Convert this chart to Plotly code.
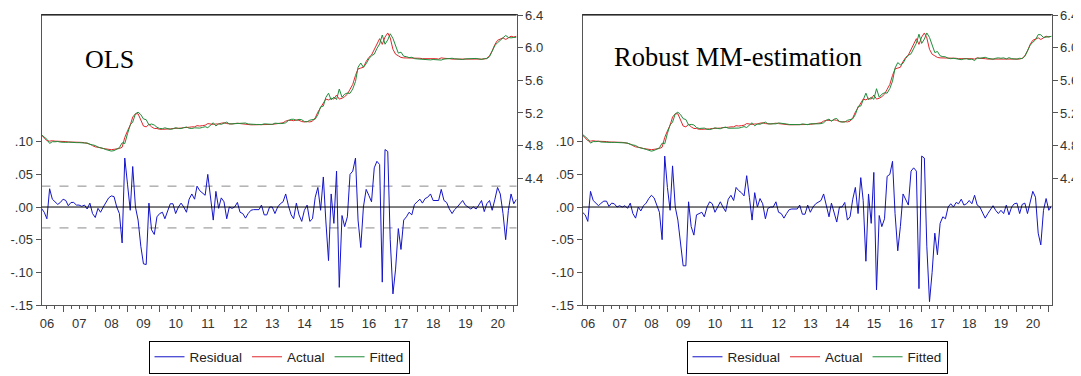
import plotly.graph_objects as go
import pandas as pd

# ---------------- data (monthly, 2006M05 - 2021M02) ----------------
start_month = "2006-05-01"
end_month = "2021-02-01"
dates = pd.date_range(start_month, end_month, freq="MS")

actual = [
    4.930, 4.900, 4.860, 4.855, 4.860, 4.855, 4.855, 4.850, 4.850, 4.850,
    4.845, 4.845, 4.845, 4.840, 4.840, 4.840, 4.835, 4.830, 4.820, 4.800,
    4.785, 4.780, 4.770, 4.765, 4.760, 4.755, 4.750, 4.755, 4.760, 4.765,
    4.780, 4.900, 4.980, 5.050, 5.150, 5.190, 5.190, 5.120, 5.040, 5.030,
    5.060, 5.030, 5.010, 5.010, 5.000, 5.000, 5.000, 5.000, 5.005, 5.010,
    5.010, 5.010, 5.015, 5.020, 5.020, 5.025, 5.030, 5.030, 5.045, 5.040,
    5.045, 5.050, 5.070, 5.065, 5.060, 5.065, 5.065, 5.075, 5.080, 5.070,
    5.065, 5.065, 5.070, 5.075, 5.070, 5.065, 5.060, 5.055, 5.055, 5.055,
    5.055, 5.055, 5.060, 5.055, 5.055, 5.060, 5.060, 5.065, 5.070, 5.075,
    5.080, 5.100, 5.110, 5.110, 5.105, 5.115, 5.110, 5.095, 5.090, 5.095,
    5.090, 5.100, 5.140, 5.210, 5.270, 5.330, 5.370, 5.360, 5.380, 5.370,
    5.420, 5.370, 5.380, 5.400, 5.430, 5.490, 5.550, 5.660, 5.740, 5.750,
    5.760, 5.830, 5.880, 5.910, 5.980, 6.060, 6.110, 6.040, 6.130, 6.180,
    6.120, 5.980, 5.920, 5.900, 5.880, 5.875, 5.875, 5.870, 5.870, 5.870,
    5.870, 5.870, 5.865, 5.865, 5.865, 5.870, 5.865, 5.865, 5.860, 5.875,
    5.870, 5.870, 5.865, 5.860, 5.860, 5.860, 5.865, 5.865, 5.865, 5.865,
    5.865, 5.865, 5.865, 5.865, 5.865, 5.860, 5.870, 5.900, 5.960, 6.040,
    6.090, 6.110, 6.120, 6.100, 6.120, 6.140, 6.130, 6.140,
]

resid_ols = [
    -0.002, -0.008, -0.018, 0.028, 0.012, 0.008, 0.004, 0.007, 0.012, 0.010,
    0.002, 0.007, 0.007, 0.003, 0.003, 0.001, 0.003, -0.003, 0.006, -0.010,
    -0.016, -0.002, -0.008, 0.000, 0.008, 0.014, 0.017, 0.016, 0.000, -0.010,
    -0.055, 0.075, 0.035, -0.005, 0.062, 0.000, -0.020, -0.060, -0.087, -0.088,
    0.006, -0.035, -0.042, -0.015, -0.010, -0.008, -0.018, -0.005, 0.005, 0.005,
    -0.010, 0.000, 0.006, 0.000, -0.008, 0.012, 0.020, 0.012, 0.032, 0.025,
    0.022, 0.018, 0.050, 0.015, -0.020, 0.024, -0.002, 0.014, 0.008, -0.018,
    0.000, -0.002, 0.000, 0.007, -0.008, -0.010, -0.017, -0.010, -0.005, -0.004,
    -0.004, -0.004, 0.003, -0.012, -0.012, 0.000, 0.000, -0.010, 0.000, 0.005,
    0.008, 0.020, 0.002, -0.012, -0.018, 0.006, -0.012, -0.022, -0.005, 0.003,
    -0.022, -0.018, 0.015, 0.030, -0.005, 0.046, -0.020, -0.082, 0.020, -0.025,
    0.055, -0.123, -0.013, -0.030, -0.015, 0.050, 0.055, 0.075, -0.020, -0.062,
    0.000, 0.027, 0.018, 0.008, 0.060, 0.070, 0.065, -0.115, 0.088, 0.085,
    -0.050, -0.133, -0.095, -0.033, -0.065, -0.020, -0.015, -0.008, -0.012, 0.004,
    0.008, 0.012, 0.006, 0.013, 0.015, 0.020, 0.010, 0.010, 0.010, 0.027,
    0.010, 0.007, -0.003, -0.010, -0.004, 0.000, 0.005, 0.010, 0.003, 0.000,
    -0.003, 0.000, -0.003, 0.003, 0.010, -0.007, 0.005, 0.010, -0.005, 0.012,
    0.030, 0.020, -0.010, -0.050, -0.005, 0.020, 0.005, 0.012,
]

fitted_ols = [
    4.932, 4.908, 4.878, 4.827, 4.848, 4.847, 4.851, 4.843, 4.838, 4.840,
    4.843, 4.838, 4.838, 4.837, 4.837, 4.839, 4.832, 4.833, 4.814, 4.810,
    4.801, 4.782, 4.778, 4.765, 4.752, 4.741, 4.733, 4.739, 4.760, 4.775,
    4.835, 4.825, 4.945, 5.055, 5.088, 5.190, 5.210, 5.180, 5.127, 5.118,
    5.054, 5.065, 5.052, 5.025, 5.010, 5.008, 5.018, 5.005, 5.000, 5.005,
    5.020, 5.010, 5.009, 5.020, 5.028, 5.013, 5.010, 5.018, 5.013, 5.015,
    5.023, 5.032, 5.020, 5.050, 5.080, 5.041, 5.067, 5.061, 5.072, 5.088,
    5.065, 5.067, 5.070, 5.068, 5.078, 5.075, 5.077, 5.065, 5.060, 5.059,
    5.059, 5.059, 5.057, 5.067, 5.067, 5.060, 5.060, 5.075, 5.070, 5.070,
    5.072, 5.080, 5.108, 5.122, 5.123, 5.109, 5.122, 5.117, 5.095, 5.092,
    5.112, 5.118, 5.125, 5.180, 5.275, 5.284, 5.390, 5.442, 5.360, 5.395,
    5.365, 5.493, 5.393, 5.430, 5.445, 5.440, 5.495, 5.585, 5.760, 5.812,
    5.760, 5.803, 5.862, 5.902, 5.920, 5.990, 6.045, 6.155, 6.042, 6.095,
    6.170, 6.113, 6.015, 5.933, 5.945, 5.895, 5.890, 5.878, 5.882, 5.866,
    5.862, 5.858, 5.859, 5.852, 5.850, 5.850, 5.855, 5.855, 5.850, 5.848,
    5.860, 5.863, 5.868, 5.870, 5.864, 5.860, 5.860, 5.855, 5.862, 5.865,
    5.868, 5.865, 5.868, 5.862, 5.855, 5.867, 5.865, 5.890, 5.965, 6.028,
    6.060, 6.090, 6.130, 6.150, 6.125, 6.120, 6.125, 6.128,
]

resid_mm = [
    -0.008, -0.012, -0.022, 0.024, 0.010, 0.006, 0.002, 0.006, 0.009, 0.009,
    0.001, 0.006, 0.005, 0.000, 0.002, 0.000, 0.002, -0.002, 0.006, -0.010,
    -0.017, 0.000, -0.006, 0.002, 0.006, 0.013, 0.018, 0.014, 0.002, -0.008,
    -0.050, 0.078, 0.030, -0.005, 0.063, 0.000, -0.020, -0.060, -0.090, -0.090,
    0.008, -0.030, -0.043, -0.012, -0.010, -0.008, -0.015, 0.000, 0.008, 0.005,
    -0.008, 0.000, 0.008, 0.000, -0.007, 0.012, 0.018, 0.010, 0.030, 0.025,
    0.022, 0.017, 0.048, 0.015, -0.020, 0.022, 0.000, 0.013, 0.005, -0.018,
    -0.002, 0.000, 0.000, 0.008, -0.008, -0.010, -0.017, -0.010, -0.004, -0.003,
    -0.003, -0.003, 0.003, -0.011, -0.011, 0.003, -0.008, 0.000, 0.005, 0.008,
    0.010, 0.020, 0.000, -0.015, 0.006, -0.010, -0.023, 0.000, 0.000, 0.007,
    -0.020, -0.015, 0.012, 0.030, -0.010, 0.045, 0.010, -0.083, 0.020, -0.025,
    0.053, -0.127, -0.013, -0.030, -0.018, 0.047, 0.050, 0.070, -0.010, -0.067,
    -0.030, 0.020, 0.012, 0.003, 0.055, 0.060, 0.055, -0.125, 0.078, 0.075,
    -0.060, -0.145, -0.100, -0.040, -0.073, -0.025, -0.015, -0.018, 0.000, 0.005,
    0.000, 0.007, 0.005, 0.012, 0.003, 0.005, 0.010, 0.005, 0.018, 0.003,
    0.000, -0.008, -0.017, -0.010, -0.005, 0.002, -0.005, -0.010, -0.005, -0.010,
    0.003, -0.012, 0.000, 0.005, 0.006, -0.010, 0.004, 0.006, -0.010, 0.010,
    0.024, 0.015, -0.040, -0.058, -0.005, 0.013, -0.005, 0.002,
]

fitted_mm = [
    4.938, 4.912, 4.882, 4.831, 4.850, 4.849, 4.853, 4.844, 4.841, 4.841,
    4.844, 4.839, 4.840, 4.840, 4.838, 4.840, 4.833, 4.832, 4.814, 4.810,
    4.802, 4.780, 4.776, 4.763, 4.754, 4.742, 4.732, 4.741, 4.758, 4.773,
    4.830, 4.822, 4.950, 5.055, 5.087, 5.190, 5.210, 5.180, 5.130, 5.120,
    5.052, 5.060, 5.053, 5.022, 5.010, 5.008, 5.015, 5.000, 4.997, 5.005,
    5.018, 5.010, 5.007, 5.020, 5.027, 5.013, 5.012, 5.020, 5.015, 5.015,
    5.023, 5.033, 5.022, 5.050, 5.080, 5.043, 5.065, 5.062, 5.075, 5.088,
    5.067, 5.065, 5.070, 5.067, 5.078, 5.075, 5.077, 5.065, 5.059, 5.058,
    5.058, 5.058, 5.057, 5.066, 5.066, 5.057, 5.068, 5.065, 5.065, 5.067,
    5.070, 5.080, 5.110, 5.125, 5.099, 5.125, 5.133, 5.095, 5.090, 5.088,
    5.110, 5.115, 5.128, 5.180, 5.280, 5.285, 5.360, 5.443, 5.360, 5.395,
    5.367, 5.497, 5.393, 5.430, 5.448, 5.443, 5.500, 5.590, 5.750, 5.817,
    5.790, 5.810, 5.868, 5.907, 5.925, 6.000, 6.055, 6.165, 6.052, 6.105,
    6.180, 6.125, 6.020, 5.940, 5.953, 5.900, 5.890, 5.888, 5.870, 5.865,
    5.870, 5.863, 5.860, 5.853, 5.862, 5.865, 5.855, 5.860, 5.842, 5.872,
    5.870, 5.878, 5.882, 5.870, 5.865, 5.858, 5.870, 5.875, 5.870, 5.875,
    5.862, 5.877, 5.865, 5.860, 5.859, 5.870, 5.866, 5.894, 5.970, 6.030,
    6.066, 6.095, 6.160, 6.158, 6.125, 6.127, 6.135, 6.138,
]

ols_band = 0.032  # +/- one standard error (dashed lines, OLS panel)

resid_ticks = [-0.15, -0.10, -0.05, 0.0, 0.05, 0.10]
resid_ticktext = ["-.15", "-.10", "-.05", ".00", ".05", ".10"]
level_ticks = [4.4, 4.8, 5.2, 5.6, 6.0, 6.4]
level_ticktext = ["4.4", "4.8", "5.2", "5.6", "6.0", "6.4"]
panel_titles = ["OLS", "Robust MM-estimation"]
series_names = ["Residual", "Actual", "Fitted"]

# ---------------- styling ----------------
PAGE_OFF = 8            # default page body margin of the browser
W, H = 1081 - PAGE_OFF, 376 - PAGE_OFF
BLUE = "#1414c8"
RED = "#e0262c"
GREEN = "#1f8c3a"
AXC = "#555555"
TXT = "#333333"
SANS = "Liberation Sans, Arial, sans-serif"
SERIF = "Liberation Serif, Times New Roman, serif"

def px_x(p):
    return (p - PAGE_OFF) / W

def px_y(p):
    return 1 - (p - PAGE_OFF) / H

y_dom = [px_y(305), px_y(15)]
x_doms = [[px_x(41.5), px_x(516.5)], [px_x(582.5), px_x(1051.5)]]

fig = go.Figure()

panels = [
    (resid_ols, fitted_ols, "x", "y", "y2", "legend"),
    (resid_mm, fitted_mm, "x2", "y3", "y4", "legend2"),
]
for resid, fitted, xa, ya, ya2, lg in panels:
    fig.add_trace(go.Scatter(x=dates, y=resid, name=series_names[0], mode="lines",
                             line=dict(color=BLUE, width=1), xaxis=xa, yaxis=ya, legend=lg))
    fig.add_trace(go.Scatter(x=dates, y=actual, name=series_names[1], mode="lines",
                             line=dict(color=RED, width=1), xaxis=xa, yaxis=ya2, legend=lg))
    fig.add_trace(go.Scatter(x=dates, y=fitted, name=series_names[2], mode="lines",
                             line=dict(color=GREEN, width=1), xaxis=xa, yaxis=ya2, legend=lg))

def xaxis_cfg(dom, anchor):
    return dict(
        domain=dom, anchor=anchor, type="date", automargin=False,
        range=[dates[0], dates[-1]],
        showline=True, linecolor=AXC, linewidth=1, mirror=True,
        ticks="outside", ticklen=6, tickcolor=AXC,
        dtick="M12", tick0="2006-01-01", tickformat="%y",
        ticklabelmode="period", ticklabeloverflow="allow",
        minor=dict(dtick="M3", ticks="outside", ticklen=3, tickcolor=AXC, showgrid=False),
        showgrid=False, zeroline=False,
        tickfont=dict(family=SANS, size=13, color=TXT),
    )

def resid_axis(anchor):
    return dict(
        domain=y_dom, anchor=anchor, range=[-0.15, 0.294], automargin=False,
        tickvals=resid_ticks, ticktext=resid_ticktext, ticklabeloverflow="allow",
        ticks="outside", ticklen=5, tickcolor=AXC,
        showline=True, linecolor=AXC, linewidth=1,
        showgrid=False, zeroline=False,
        tickfont=dict(family=SANS, size=13, color=TXT),
    )

def level_axis(anchor, over):
    return dict(
        overlaying=over, side="right", anchor=anchor, range=[2.848, 6.4], automargin=False,
        tickvals=level_ticks, ticktext=level_ticktext, ticklabeloverflow="allow",
        ticks="outside", ticklen=5, tickcolor=AXC,
        showline=True, linecolor=AXC, linewidth=1,
        showgrid=False, zeroline=False,
        tickfont=dict(family=SANS, size=13, color=TXT),
    )

legend_common = dict(
    orientation="h", yanchor="bottom", y=px_y(373.5), xanchor="center",
    bordercolor="black", borderwidth=1, bgcolor="white",
    font=dict(family=SANS, size=13.5, color="#222222"),
)

fig.update_layout(
    width=W, height=H,
    margin=dict(l=0, r=0, t=0, b=0, autoexpand=False),
    paper_bgcolor="white", plot_bgcolor="white",
    xaxis=xaxis_cfg(x_doms[0], "y"),
    xaxis2=xaxis_cfg(x_doms[1], "y3"),
    yaxis=resid_axis("x"),
    yaxis2=level_axis("x", "y"),
    yaxis3=resid_axis("x2"),
    yaxis4=level_axis("x2", "y3"),
    legend=dict(legend_common, x=(x_doms[0][0] + x_doms[0][1]) / 2),
    legend2=dict(legend_common, x=(x_doms[1][0] + x_doms[1][1]) / 2),
    showlegend=True,
)

shapes = []
for xa, ya in [("x", "y"), ("x2", "y3")]:
    shapes.append(dict(type="line", xref=f"{xa} domain", x0=0, x1=1, yref=ya, y0=0, y1=0,
                       line=dict(color="black", width=1), layer="above"))
    # black top frame line, as in the reference
    shapes.append(dict(type="line", xref=f"{xa} domain", x0=0, x1=1, yref=f"{ya} domain",
                       y0=1, y1=1, line=dict(color="black", width=1), layer="above"))
for v in (ols_band, -ols_band):
    shapes.append(dict(type="line", xref="x domain", x0=0, x1=1, yref="y", y0=v, y1=v,
                       line=dict(color="#8a8a8a", width=1, dash="dash"), layer="below"))
fig.update_layout(shapes=shapes)

fig.add_annotation(text=panel_titles[0], xref="paper", yref="paper",
                   x=px_x(83), y=px_y(59), xanchor="left", yanchor="middle",
                   showarrow=False, font=dict(family=SERIF, size=26, color="black"))
fig.add_annotation(text=panel_titles[1], xref="paper", yref="paper",
                   x=px_x(612), y=px_y(57), xanchor="left", yanchor="middle",
                   showarrow=False, font=dict(family=SERIF, size=26.5, color="black"))

fig.write_html("out.html")
